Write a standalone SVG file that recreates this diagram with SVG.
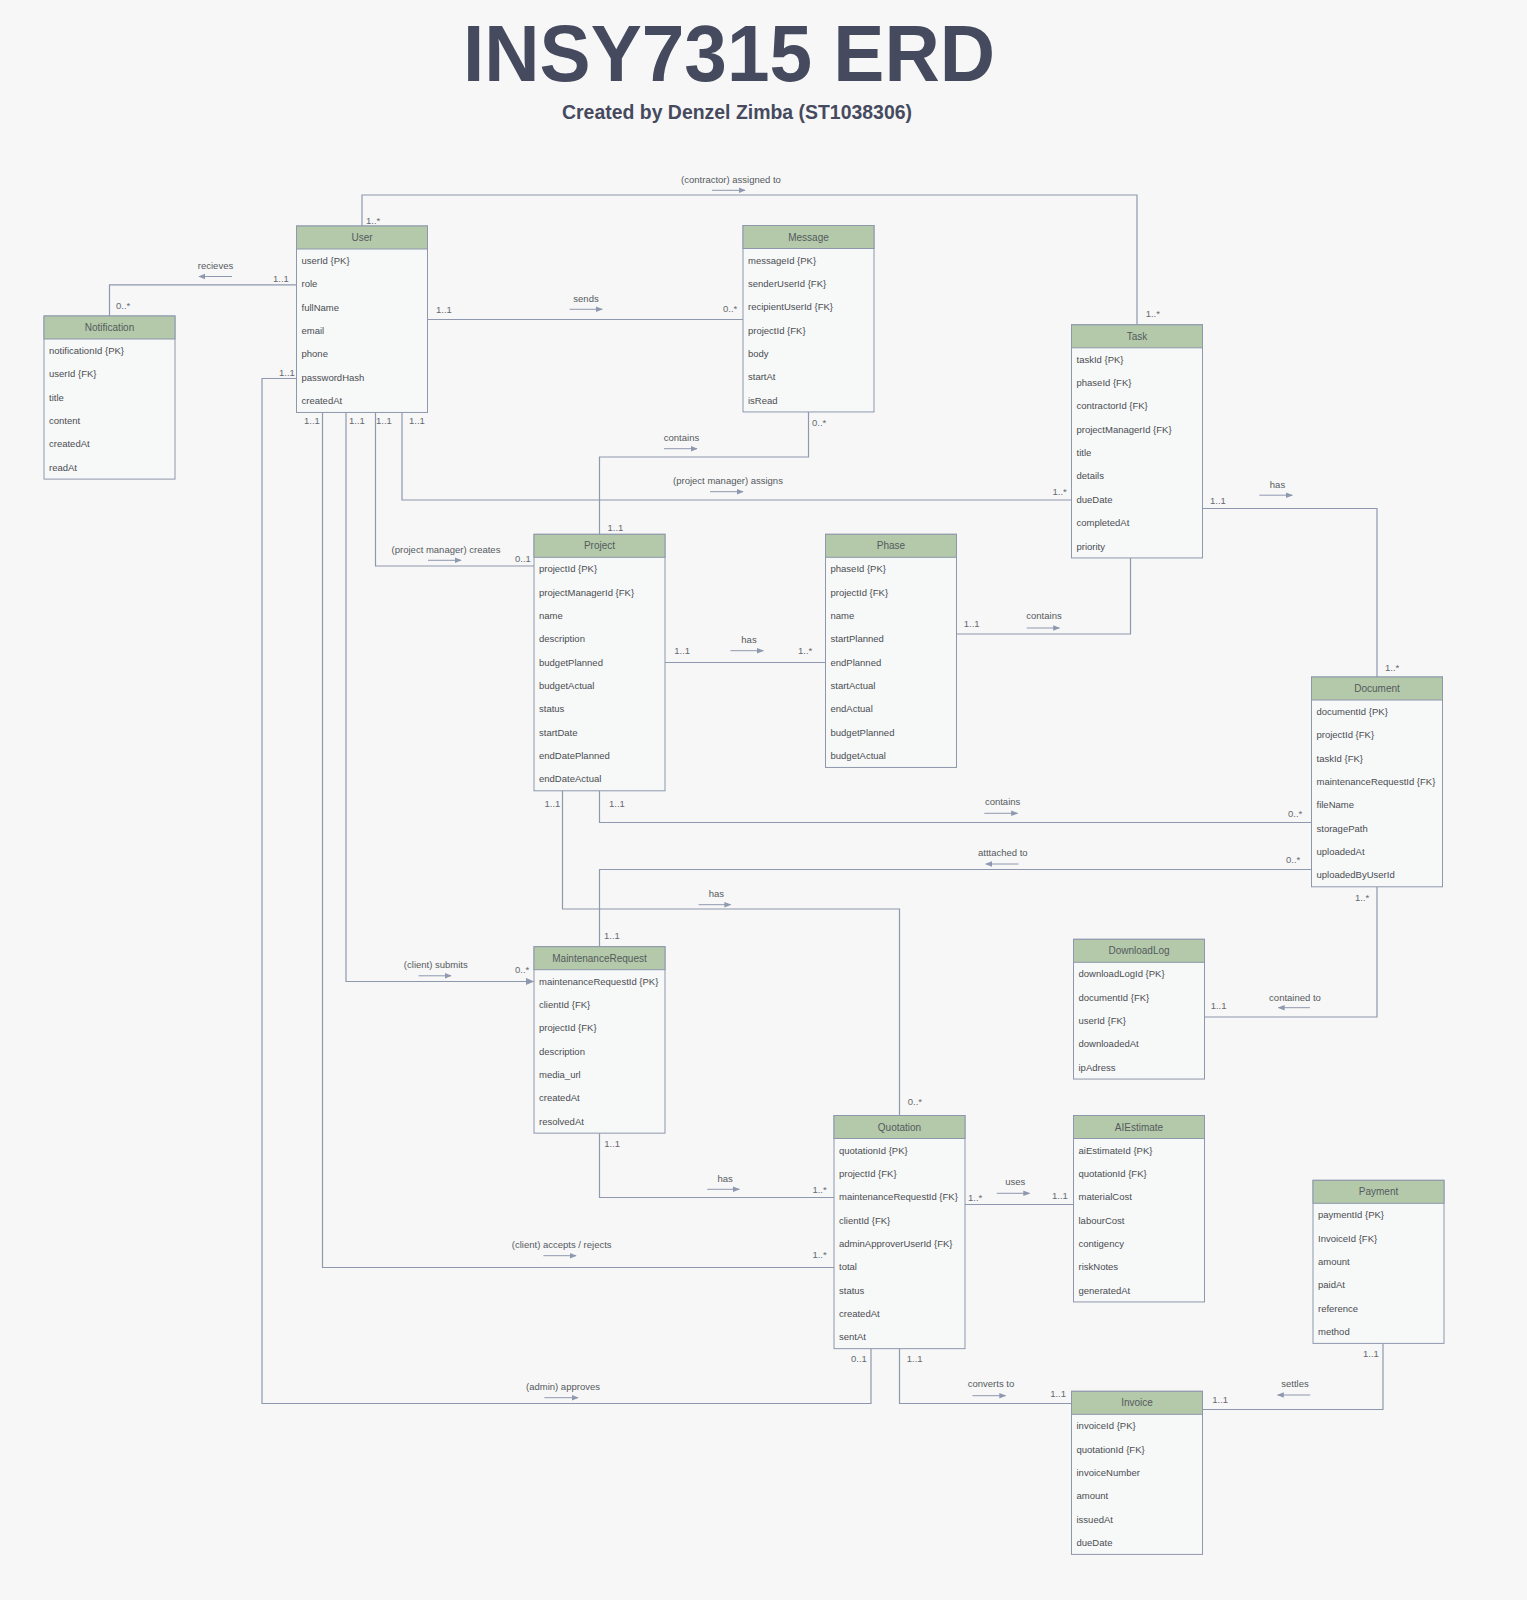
<svg xmlns="http://www.w3.org/2000/svg" width="1527" height="1600" viewBox="0 0 1527 1600">
<defs>
<style>
.bg{fill:#f7f7f7}
.hdr{fill:#b3c9a9;stroke:#8e97ab;stroke-width:1}
.bd{fill:#f7f8f8;stroke:#8e97ab;stroke-width:1}
.ht{font-family:"Liberation Sans",Arial,sans-serif;font-size:10px;fill:#555a60;text-anchor:middle}
.rt{font-family:"Liberation Sans",Arial,sans-serif;font-size:9.5px;fill:#4a4d52}
.conn{fill:none;stroke:#8e98ae;stroke-width:1.2}
.lbl{font-family:"Liberation Sans",Arial,sans-serif;font-size:9.5px;fill:#555a60;text-anchor:middle}
.card{font-family:"Liberation Sans",Arial,sans-serif;font-size:9.5px;fill:#666a70}
.arr{stroke:#8e98ae;stroke-width:1;fill:none;marker-end:url(#ah)}
.title{font-family:"Liberation Sans",Arial,sans-serif;font-weight:bold;fill:#464a5e;text-anchor:middle}
</style>
<marker id="ah" viewBox="0 0 10 10" refX="9" refY="5" markerWidth="7" markerHeight="7" markerUnits="userSpaceOnUse" orient="auto">
<path d="M0,1 L10,5 L0,9 z" fill="#8e98ae"/>
</marker>
<marker id="endh" viewBox="0 0 10 10" refX="10" refY="5" markerWidth="8" markerHeight="8" markerUnits="userSpaceOnUse" orient="auto">
<path d="M0,0.5 L10,5 L0,9.5 z" fill="#8e98ae"/>
</marker>
</defs>
<rect class="bg" x="0" y="0" width="1527" height="1600"/>

<text class="title" x="729" y="81" font-size="80" textLength="532" lengthAdjust="spacingAndGlyphs">INSY7315 ERD</text>
<text class="title" x="737" y="119" font-size="20" textLength="350" lengthAdjust="spacingAndGlyphs">Created by Denzel Zimba (ST1038306)</text>

<g id="connectors">
<path class="conn" d="M362,226 V195 H1137 V324.8"/>
<path class="conn" d="M296.5,284.8 H109.5 V316"/>
<path class="conn" d="M427.5,319.5 H743"/>
<path class="conn" d="M808.5,412 V457 H599.5 V534.3"/>
<path class="conn" d="M402,412.5 V500 H1071.5"/>
<path class="conn" d="M375.5,412.5 V566 H534"/>
<path class="conn" d="M346,412.5 V981.5 H534" marker-end="url(#endh)"/>
<path class="conn" d="M322.5,412.5 V1267.5 H834"/>
<path class="conn" d="M296.5,378.5 H262 V1403.5 H871 V1348.7"/>
<path class="conn" d="M664.5,662.5 H825.5"/>
<path class="conn" d="M956.5,634 H1130.5 V558"/>
<path class="conn" d="M1202.5,508.5 H1377 V677"/>
<path class="conn" d="M599.5,790.8 V822.5 H1311.5"/>
<path class="conn" d="M1311.5,869.5 H599.5 V946.7"/>
<path class="conn" d="M562.5,790.8 V909 H899.5 V1115.5"/>
<path class="conn" d="M1377,886.8 V1017 H1204.5"/>
<path class="conn" d="M599.5,1133.2 V1197.5 H834"/>
<path class="conn" d="M965,1204.5 H1073.5"/>
<path class="conn" d="M899.5,1348.7 V1403.5 H1071.5"/>
<path class="conn" d="M1383,1343.4 V1409.5 H1202.5"/>

<!-- relationship labels -->
<text class="lbl" x="731" y="182.5">(contractor) assigned to</text>
<line class="arr" x1="712" y1="190.3" x2="745" y2="190.3"/>
<text class="lbl" x="215.5" y="269">recieves</text>
<line class="arr" x1="232" y1="276.5" x2="199" y2="276.5"/>
<text class="lbl" x="586" y="301.7">sends</text>
<line class="arr" x1="569.6" y1="309.3" x2="602.2" y2="309.3"/>
<text class="lbl" x="681.5" y="440.7">contains</text>
<line class="arr" x1="664" y1="448.7" x2="697" y2="448.7"/>
<text class="lbl" x="728" y="484">(project manager) assigns</text>
<line class="arr" x1="710" y1="491.7" x2="743" y2="491.7"/>
<text class="lbl" x="446" y="552.7">(project manager) creates</text>
<line class="arr" x1="428" y1="560.3" x2="461" y2="560.3"/>
<text class="lbl" x="435.8" y="968">(client) submits</text>
<line class="arr" x1="418.5" y1="975.8" x2="451" y2="975.8"/>
<text class="lbl" x="561.7" y="1248.3">(client) accepts / rejects</text>
<line class="arr" x1="543.4" y1="1255.7" x2="576" y2="1255.7"/>
<text class="lbl" x="563" y="1390">(admin) approves</text>
<line class="arr" x1="544.4" y1="1397.7" x2="578" y2="1397.7"/>
<text class="lbl" x="749" y="643.3">has</text>
<line class="arr" x1="730.5" y1="650.7" x2="763.3" y2="650.7"/>
<text class="lbl" x="1044" y="618.5">contains</text>
<line class="arr" x1="1026.8" y1="628" x2="1059.5" y2="628"/>
<text class="lbl" x="1277.5" y="487.5">has</text>
<line class="arr" x1="1259.3" y1="495.2" x2="1292.3" y2="495.2"/>
<text class="lbl" x="1002.6" y="805.3">contains</text>
<line class="arr" x1="984.3" y1="813.3" x2="1017.5" y2="813.3"/>
<text class="lbl" x="1002.8" y="856">atttached to</text>
<line class="arr" x1="1018.5" y1="864" x2="985.8" y2="864"/>
<text class="lbl" x="716.3" y="896.7">has</text>
<line class="arr" x1="698.6" y1="904.7" x2="730.7" y2="904.7"/>
<text class="lbl" x="1295" y="1000.7">contained to</text>
<line class="arr" x1="1310" y1="1007.7" x2="1278.3" y2="1007.7"/>
<text class="lbl" x="725.2" y="1181.7">has</text>
<line class="arr" x1="707.2" y1="1189.3" x2="739.3" y2="1189.3"/>
<text class="lbl" x="1015.3" y="1185">uses</text>
<line class="arr" x1="996.8" y1="1193.3" x2="1029.6" y2="1193.3"/>
<text class="lbl" x="991" y="1387.3">converts to</text>
<line class="arr" x1="972.4" y1="1395.7" x2="1005.6" y2="1395.7"/>
<text class="lbl" x="1295" y="1387.3">settles</text>
<line class="arr" x1="1310.3" y1="1395" x2="1277.5" y2="1395"/>

<!-- cardinalities -->
<text class="card" x="366" y="224">1..*</text>
<text class="card" x="1145.7" y="317.3">1..*</text>
<text class="card" x="273" y="282">1..1</text>
<text class="card" x="116" y="309">0..*</text>
<text class="card" x="436" y="312.5">1..1</text>
<text class="card" x="723" y="311.7">0..*</text>
<text class="card" x="812" y="425.7">0..*</text>
<text class="card" x="607.5" y="530.7">1..1</text>
<text class="card" x="304" y="424">1..1</text>
<text class="card" x="349" y="424">1..1</text>
<text class="card" x="376" y="424">1..1</text>
<text class="card" x="409" y="424">1..1</text>
<text class="card" x="279" y="376">1..1</text>
<text class="card" x="1052.5" y="495">1..*</text>
<text class="card" x="515" y="562.3">0..1</text>
<text class="card" x="515" y="973.3">0..*</text>
<text class="card" x="674.3" y="654.3">1..1</text>
<text class="card" x="798" y="654">1..*</text>
<text class="card" x="963.8" y="626.7">1..1</text>
<text class="card" x="1210" y="503.6">1..1</text>
<text class="card" x="1385" y="671.2">1..*</text>
<text class="card" x="544.5" y="806.7">1..1</text>
<text class="card" x="609" y="806.7">1..1</text>
<text class="card" x="1288" y="817.4">0..*</text>
<text class="card" x="1286" y="862.6">0..*</text>
<text class="card" x="604" y="939.3">1..1</text>
<text class="card" x="907.8" y="1105">0..*</text>
<text class="card" x="1355" y="900.7">1..*</text>
<text class="card" x="1210.7" y="1009.3">1..1</text>
<text class="card" x="604.3" y="1146.7">1..1</text>
<text class="card" x="812.4" y="1192.7">1..*</text>
<text class="card" x="812.4" y="1258.3">1..*</text>
<text class="card" x="968" y="1201">1..*</text>
<text class="card" x="1052" y="1199">1..1</text>
<text class="card" x="851" y="1362.3">0..1</text>
<text class="card" x="906.8" y="1362.3">1..1</text>
<text class="card" x="1050.2" y="1397.3">1..1</text>
<text class="card" x="1212.3" y="1402.7">1..1</text>
<text class="card" x="1363" y="1357.3">1..1</text>
</g>

<g id="User" transform="translate(296.5,226)">
<rect class="bd" x="0" y="0" width="131" height="186.45"/>
<rect class="hdr" x="0" y="0" width="131" height="23"/>
<text class="ht" x="65.5" y="15">User</text>
<text class="rt" x="5" y="38">userId {PK}</text>
<text class="rt" x="5" y="61.3">role</text>
<text class="rt" x="5" y="84.7">fullName</text>
<text class="rt" x="5" y="108">email</text>
<text class="rt" x="5" y="131.4">phone</text>
<text class="rt" x="5" y="154.7">passwordHash</text>
<text class="rt" x="5" y="178.1">createdAt</text>
</g>

<g id="Notification" transform="translate(44,316)">
<rect class="bd" x="0" y="0" width="131" height="163.1"/>
<rect class="hdr" x="0" y="0" width="131" height="23"/>
<text class="ht" x="65.5" y="15">Notification</text>
<text class="rt" x="5" y="38">notificationId {PK}</text>
<text class="rt" x="5" y="61.3">userId {FK}</text>
<text class="rt" x="5" y="84.7">title</text>
<text class="rt" x="5" y="108">content</text>
<text class="rt" x="5" y="131.4">createdAt</text>
<text class="rt" x="5" y="154.7">readAt</text>
</g>

<g id="Message" transform="translate(743,225.5)">
<rect class="bd" x="0" y="0" width="131" height="186.45"/>
<rect class="hdr" x="0" y="0" width="131" height="23"/>
<text class="ht" x="65.5" y="15">Message</text>
<text class="rt" x="5" y="38">messageId {PK}</text>
<text class="rt" x="5" y="61.3">senderUserId {FK}</text>
<text class="rt" x="5" y="84.7">recipientUserId {FK}</text>
<text class="rt" x="5" y="108">projectId {FK}</text>
<text class="rt" x="5" y="131.4">body</text>
<text class="rt" x="5" y="154.7">startAt</text>
<text class="rt" x="5" y="178.1">isRead</text>
</g>

<g id="Task" transform="translate(1071.5,324.8)">
<rect class="bd" x="0" y="0" width="131" height="233.15"/>
<rect class="hdr" x="0" y="0" width="131" height="23"/>
<text class="ht" x="65.5" y="15">Task</text>
<text class="rt" x="5" y="38">taskId {PK}</text>
<text class="rt" x="5" y="61.3">phaseId {FK}</text>
<text class="rt" x="5" y="84.7">contractorId {FK}</text>
<text class="rt" x="5" y="108">projectManagerId {FK}</text>
<text class="rt" x="5" y="131.4">title</text>
<text class="rt" x="5" y="154.7">details</text>
<text class="rt" x="5" y="178.1">dueDate</text>
<text class="rt" x="5" y="201.4">completedAt</text>
<text class="rt" x="5" y="224.8">priority</text>
</g>

<g id="Project" transform="translate(534,534.3)">
<rect class="bd" x="0" y="0" width="131" height="256.5"/>
<rect class="hdr" x="0" y="0" width="131" height="23"/>
<text class="ht" x="65.5" y="15">Project</text>
<text class="rt" x="5" y="38">projectId {PK}</text>
<text class="rt" x="5" y="61.3">projectManagerId {FK}</text>
<text class="rt" x="5" y="84.7">name</text>
<text class="rt" x="5" y="108">description</text>
<text class="rt" x="5" y="131.4">budgetPlanned</text>
<text class="rt" x="5" y="154.7">budgetActual</text>
<text class="rt" x="5" y="178.1">status</text>
<text class="rt" x="5" y="201.4">startDate</text>
<text class="rt" x="5" y="224.8">endDatePlanned</text>
<text class="rt" x="5" y="248.1">endDateActual</text>
</g>

<g id="Phase" transform="translate(825.5,534.3)">
<rect class="bd" x="0" y="0" width="131" height="233.15"/>
<rect class="hdr" x="0" y="0" width="131" height="23"/>
<text class="ht" x="65.5" y="15">Phase</text>
<text class="rt" x="5" y="38">phaseId {PK}</text>
<text class="rt" x="5" y="61.3">projectId {FK}</text>
<text class="rt" x="5" y="84.7">name</text>
<text class="rt" x="5" y="108">startPlanned</text>
<text class="rt" x="5" y="131.4">endPlanned</text>
<text class="rt" x="5" y="154.7">startActual</text>
<text class="rt" x="5" y="178.1">endActual</text>
<text class="rt" x="5" y="201.4">budgetPlanned</text>
<text class="rt" x="5" y="224.8">budgetActual</text>
</g>

<g id="Document" transform="translate(1311.5,677)">
<rect class="bd" x="0" y="0" width="131" height="209.8"/>
<rect class="hdr" x="0" y="0" width="131" height="23"/>
<text class="ht" x="65.5" y="15">Document</text>
<text class="rt" x="5" y="38">documentId {PK}</text>
<text class="rt" x="5" y="61.3">projectId {FK}</text>
<text class="rt" x="5" y="84.7">taskId {FK}</text>
<text class="rt" x="5" y="108">maintenanceRequestId {FK}</text>
<text class="rt" x="5" y="131.4">fileName</text>
<text class="rt" x="5" y="154.7">storagePath</text>
<text class="rt" x="5" y="178.1">uploadedAt</text>
<text class="rt" x="5" y="201.4">uploadedByUserId</text>
</g>

<g id="MaintenanceRequest" transform="translate(534,946.7)">
<rect class="bd" x="0" y="0" width="131" height="186.45"/>
<rect class="hdr" x="0" y="0" width="131" height="23"/>
<text class="ht" x="65.5" y="15">MaintenanceRequest</text>
<text class="rt" x="5" y="38">maintenanceRequestId {PK}</text>
<text class="rt" x="5" y="61.3">clientId {FK}</text>
<text class="rt" x="5" y="84.7">projectId {FK}</text>
<text class="rt" x="5" y="108">description</text>
<text class="rt" x="5" y="131.4">media_url</text>
<text class="rt" x="5" y="154.7">createdAt</text>
<text class="rt" x="5" y="178.1">resolvedAt</text>
</g>

<g id="DownloadLog" transform="translate(1073.5,939.3)">
<rect class="bd" x="0" y="0" width="131" height="139.75"/>
<rect class="hdr" x="0" y="0" width="131" height="23"/>
<text class="ht" x="65.5" y="15">DownloadLog</text>
<text class="rt" x="5" y="38">downloadLogId {PK}</text>
<text class="rt" x="5" y="61.3">documentId {FK}</text>
<text class="rt" x="5" y="84.7">userId {FK}</text>
<text class="rt" x="5" y="108">downloadedAt</text>
<text class="rt" x="5" y="131.4">ipAdress</text>
</g>

<g id="Quotation" transform="translate(834,1115.5)">
<rect class="bd" x="0" y="0" width="131" height="233.15"/>
<rect class="hdr" x="0" y="0" width="131" height="23"/>
<text class="ht" x="65.5" y="15">Quotation</text>
<text class="rt" x="5" y="38">quotationId {PK}</text>
<text class="rt" x="5" y="61.3">projectId {FK}</text>
<text class="rt" x="5" y="84.7">maintenanceRequestId {FK}</text>
<text class="rt" x="5" y="108">clientId {FK}</text>
<text class="rt" x="5" y="131.4">adminApproverUserId {FK}</text>
<text class="rt" x="5" y="154.7">total</text>
<text class="rt" x="5" y="178.1">status</text>
<text class="rt" x="5" y="201.4">createdAt</text>
<text class="rt" x="5" y="224.8">sentAt</text>
</g>

<g id="AIEstimate" transform="translate(1073.5,1115.5)">
<rect class="bd" x="0" y="0" width="131" height="186.45"/>
<rect class="hdr" x="0" y="0" width="131" height="23"/>
<text class="ht" x="65.5" y="15">AIEstimate</text>
<text class="rt" x="5" y="38">aiEstimateId {PK}</text>
<text class="rt" x="5" y="61.3">quotationId {FK}</text>
<text class="rt" x="5" y="84.7">materialCost</text>
<text class="rt" x="5" y="108">labourCost</text>
<text class="rt" x="5" y="131.4">contigency</text>
<text class="rt" x="5" y="154.7">riskNotes</text>
<text class="rt" x="5" y="178.1">generatedAt</text>
</g>

<g id="Payment" transform="translate(1313,1180.3)">
<rect class="bd" x="0" y="0" width="131" height="163.1"/>
<rect class="hdr" x="0" y="0" width="131" height="23"/>
<text class="ht" x="65.5" y="15">Payment</text>
<text class="rt" x="5" y="38">paymentId {PK}</text>
<text class="rt" x="5" y="61.3">InvoiceId {FK}</text>
<text class="rt" x="5" y="84.7">amount</text>
<text class="rt" x="5" y="108">paidAt</text>
<text class="rt" x="5" y="131.4">reference</text>
<text class="rt" x="5" y="154.7">method</text>
</g>

<g id="Invoice" transform="translate(1071.5,1391.3)">
<rect class="bd" x="0" y="0" width="131" height="163.1"/>
<rect class="hdr" x="0" y="0" width="131" height="23"/>
<text class="ht" x="65.5" y="15">Invoice</text>
<text class="rt" x="5" y="38">invoiceId {PK}</text>
<text class="rt" x="5" y="61.3">quotationId {FK}</text>
<text class="rt" x="5" y="84.7">invoiceNumber</text>
<text class="rt" x="5" y="108">amount</text>
<text class="rt" x="5" y="131.4">issuedAt</text>
<text class="rt" x="5" y="154.7">dueDate</text>
</g>
</svg>
